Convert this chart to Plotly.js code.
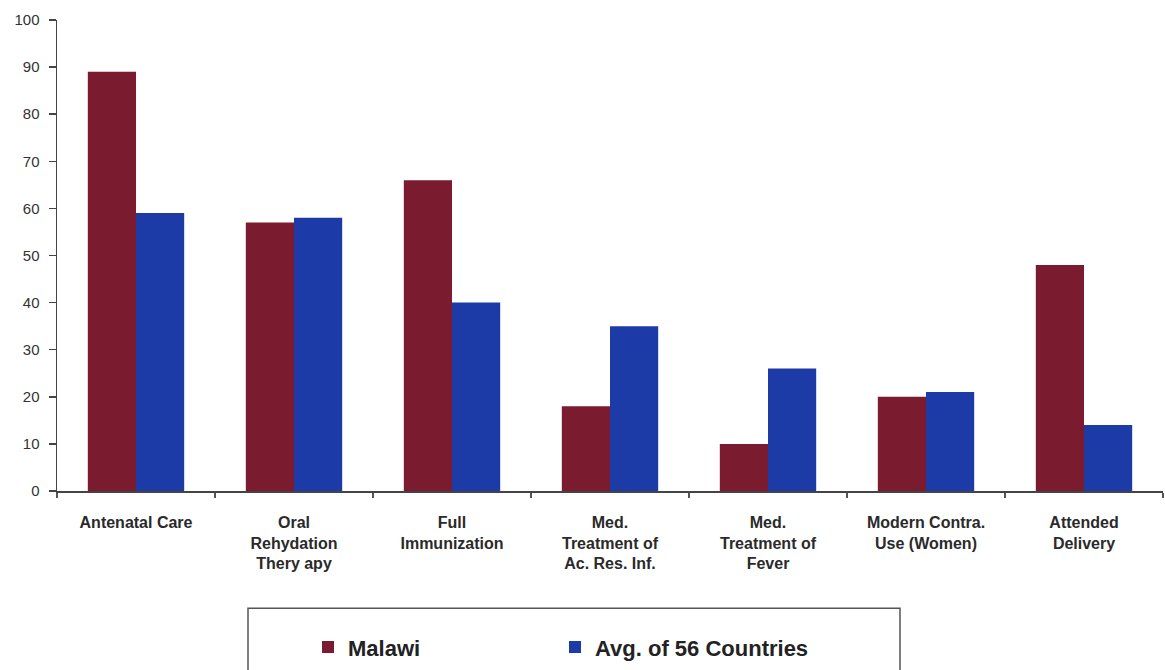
<!DOCTYPE html>
<html>
<head>
<meta charset="utf-8">
<script src="https://cdn.plot.ly/plotly-3.0.1.min.js"></script>
<style>html,body{margin:0;padding:0;background:#fff;}#chart{width:1165px;height:670px;}</style>
</head>
<body>
<div id="chart"></div>
<script>
const categories = ["Antenatal Care", "Oral<br>Rehydation<br>Thery apy", "Full<br>Immunization", "Med.<br>Treatment of<br>Ac. Res. Inf.", "Med.<br>Treatment of<br>Fever", "Modern Contra.<br>Use (Women)", "Attended<br>Delivery"];
const malawi = [89, 57, 66, 18, 10, 20, 48];
const avg56 = [59, 58, 40, 35, 26, 21, 14];
const seriesNames = ["Malawi", "Avg. of 56 Countries"];
const yTicks = [0, 10, 20, 30, 40, 50, 60, 70, 80, 90, 100];

const W = 1165, H = 670;
const L = 57, R = 1163, T = 20, B = 494;
const px2x = v => (v - L) / (R - L);
const px2y = v => (B - v) / (B - T);

const SANS = '"Liberation Sans", Arial, sans-serif';

const traces = [
  {type: 'bar', name: seriesNames[0], x: categories, y: malawi, legend: 'legend', marker: {color: '#7b1b30', line: {width: 0}}},
  {type: 'bar', name: seriesNames[1], x: categories, y: avg56, legend: 'legend2', marker: {color: '#1d3ba6', line: {width: 0}}}
];

const legendBase = {
  orientation: 'h', xanchor: 'left', yanchor: 'top', y: px2y(630),
  font: {family: SANS, size: 22, color: '#222', weight: 'bold'},
  bgcolor: 'rgba(0,0,0,0)', borderwidth: 0
};

const layout = {
  width: W, height: H,
  margin: {l: L, r: W - R, t: T, b: H - B, pad: 0},
  paper_bgcolor: '#ffffff', plot_bgcolor: '#ffffff',
  barmode: 'group', bargap: 0.39, bargroupgap: 0,
  showlegend: true,
  legend: Object.assign({}, legendBase, {x: px2x(308)}),
  legend2: Object.assign({}, legendBase, {x: px2x(555)}),
  xaxis: {
    type: 'category', showline: true, linecolor: '#444', linewidth: 1.5,
    ticks: 'outside', tickson: 'boundaries', ticklen: 5, tickcolor: '#555', tickwidth: 1.5,
    tickfont: {family: SANS, size: 16, color: '#2a2a2a', weight: 'bold'},
    ticklabelstandoff: 16, showgrid: false, zeroline: false, tickangle: 0
  },
  yaxis: {
    range: [0, 100], tickvals: yTicks, showline: true, linecolor: '#444', linewidth: 1.5,
    ticks: 'outside', ticklen: 7, tickcolor: '#444', tickwidth: 1.5,
    tickfont: {family: SANS, size: 15, color: '#333'},
    ticklabelstandoff: 6, showgrid: false, zeroline: false
  },
  shapes: [{
    type: 'rect', xref: 'paper', yref: 'paper',
    x0: px2x(248), x1: px2x(900), y0: px2y(612), y1: px2y(700),
    line: {color: '#555', width: 1.5}, fillcolor: 'rgba(0,0,0,0)'
  }]
};

Plotly.newPlot('chart', traces, layout, {displayModeBar: false, staticPlot: true});
</script>
</body>
</html>
